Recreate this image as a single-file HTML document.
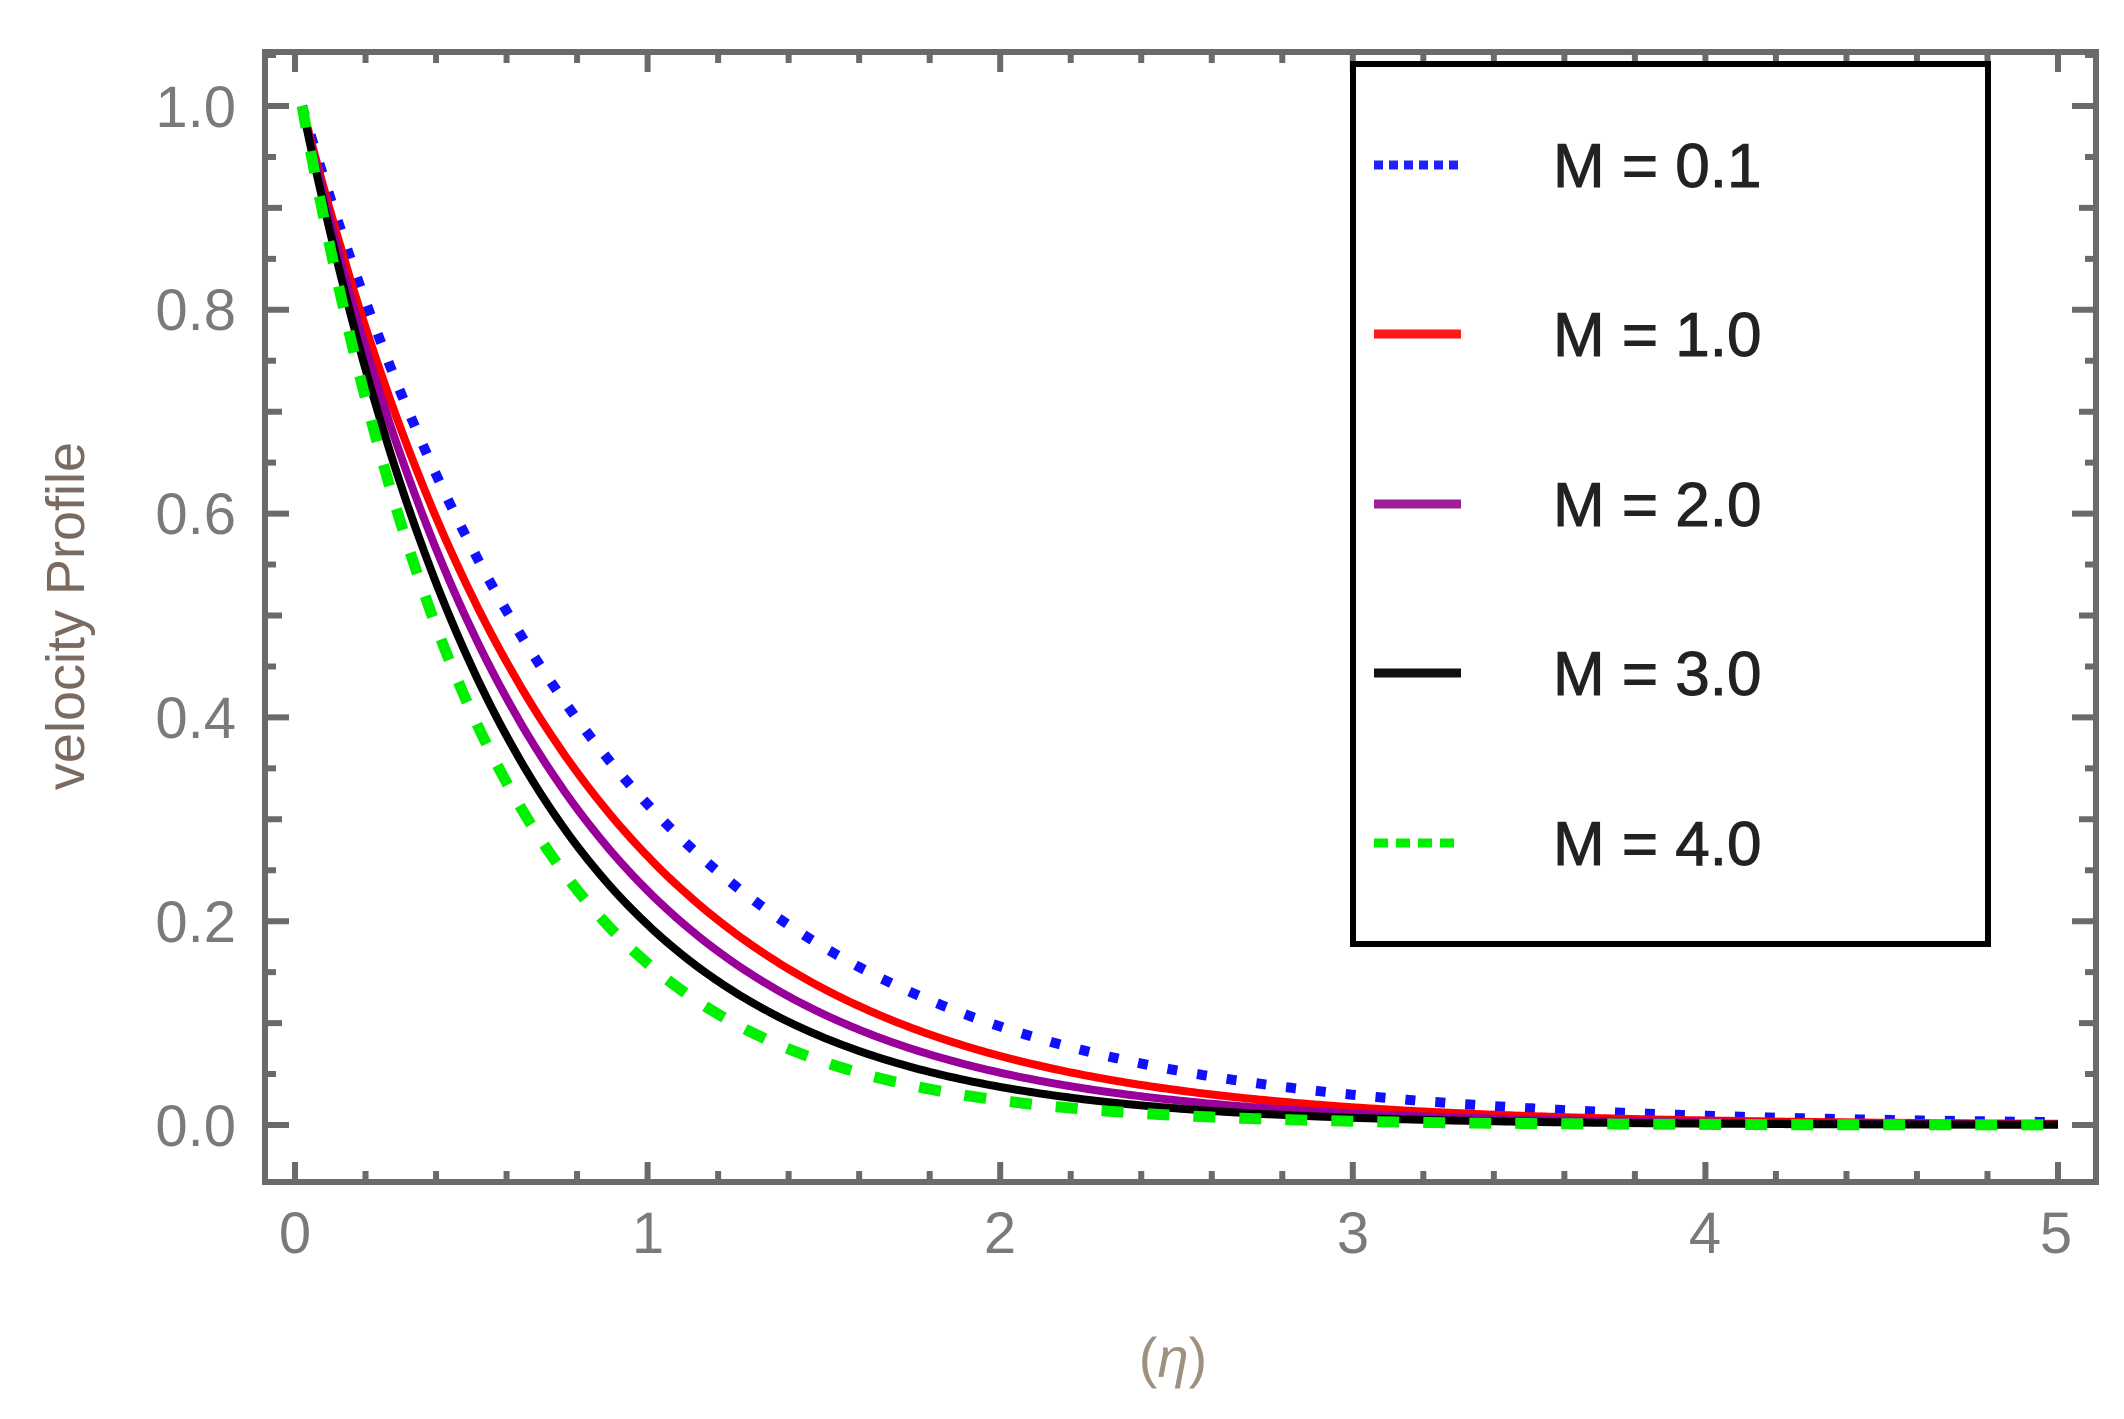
<!DOCTYPE html>
<html><head><meta charset="utf-8"><style>
html,body{margin:0;padding:0;background:#fff;}
svg{display:block;}
text{font-family:"Liberation Sans",sans-serif;}
</style></head><body>
<svg id="s" width="2124" height="1419" viewBox="0 0 2124 1419" xmlns="http://www.w3.org/2000/svg">
<rect width="2124" height="1419" fill="#fff"/>
<g id="ticks" stroke="#6a6a6a" stroke-width="6"></g>
<g id="curves" fill="none" stroke-linejoin="round"></g>
<rect x="265" y="52" width="1831" height="1130" fill="none" stroke="#6a6a6a" stroke-width="6"/>
<g fill="#7a7a7a" font-size="58">
<text x="236" y="127" text-anchor="end">1.0</text>
<text x="236" y="330" text-anchor="end">0.8</text>
<text x="236" y="534" text-anchor="end">0.6</text>
<text x="236" y="738" text-anchor="end">0.4</text>
<text x="236" y="942" text-anchor="end">0.2</text>
<text x="236" y="1146" text-anchor="end">0.0</text>
<text x="295" y="1253" text-anchor="middle">0</text>
<text x="648" y="1253" text-anchor="middle">1</text>
<text x="1000" y="1253" text-anchor="middle">2</text>
<text x="1353" y="1253" text-anchor="middle">3</text>
<text x="1705" y="1253" text-anchor="middle">4</text>
<text x="2056" y="1253" text-anchor="middle">5</text>
</g>
<text x="1173" y="1377" text-anchor="middle" font-size="56" fill="#a09080" font-family="Liberation Serif, serif">(<tspan font-style="italic">η</tspan>)</text>
<text transform="translate(84,616) rotate(-90)" text-anchor="middle" font-size="54" fill="#7a6a60">velocity  Profile</text>
<rect x="1353" y="64" width="635" height="880" fill="#fff" stroke="#000" stroke-width="6"/>
<g stroke-width="9">
<line x1="1374" y1="165" x2="1461" y2="165" stroke="#2020ff" stroke-dasharray="9 6"/>
<line x1="1374" y1="334" x2="1461" y2="334" stroke="#ff1a1a"/>
<line x1="1374" y1="504" x2="1461" y2="504" stroke="#a0209a"/>
<line x1="1374" y1="673" x2="1461" y2="673" stroke="#111"/>
<line x1="1374" y1="843" x2="1461" y2="843" stroke="#00ee00" stroke-dasharray="14 8"/>
</g>
<g font-size="62" fill="#222" stroke="#222" stroke-width="1">
<text x="1553" y="187">M = 0.1</text>
<text x="1553" y="356">M = 1.0</text>
<text x="1553" y="526">M = 2.0</text>
<text x="1553" y="695">M = 3.0</text>
<text x="1553" y="865">M = 4.0</text>
</g>
</svg>
<script>
(function(){
var NS="http://www.w3.org/2000/svg";
var X=function(e){return 295+352.6*e;}, Y=function(v){return 1125-1019*v;};
var t=document.getElementById("ticks"), d="";
for(var i=0;i<=25;i++){var e=i*0.2,x=X(e),L=(i%5==0)?20:11;
 d+="M"+x+" 1182V"+(1182-L)+"M"+x+" 52V"+(52+L);}
for(var j=0;j<=21;j++){var v=j*0.05,y=Y(v);if(y<55||y>1180)continue;var L=(j%4==0)?24:(j%2==0?17:11);
 d+="M265 "+y+"H"+(265+L)+"M2096 "+y+"H"+(2096-L);}
var p=document.createElementNS(NS,"path");p.setAttribute("d",d);t.appendChild(p);
var c=document.getElementById("curves");
var S=[[1.18,"#1010ff","10 20",10],[1.36,"#ff0000","",8],[1.5,"#990099","",8],[1.66,"#000","",8],[1.88,"#00f000","22 24",11]];
S.forEach(function(s){var pd="";for(var k=0;k<=400;k++){var e=0.02+k*(4.98/400);
 pd+=(k?"L":"M")+X(e).toFixed(1)+" "+Y(Math.exp(-s[0]*(e-0.02))).toFixed(1);}
 var q=document.createElementNS(NS,"path");q.setAttribute("d",pd);q.setAttribute("stroke",s[1]);
 q.setAttribute("stroke-width",s[3]);if(s[2])q.setAttribute("stroke-dasharray",s[2]);c.appendChild(q);});
})();
</script>
</body></html>
